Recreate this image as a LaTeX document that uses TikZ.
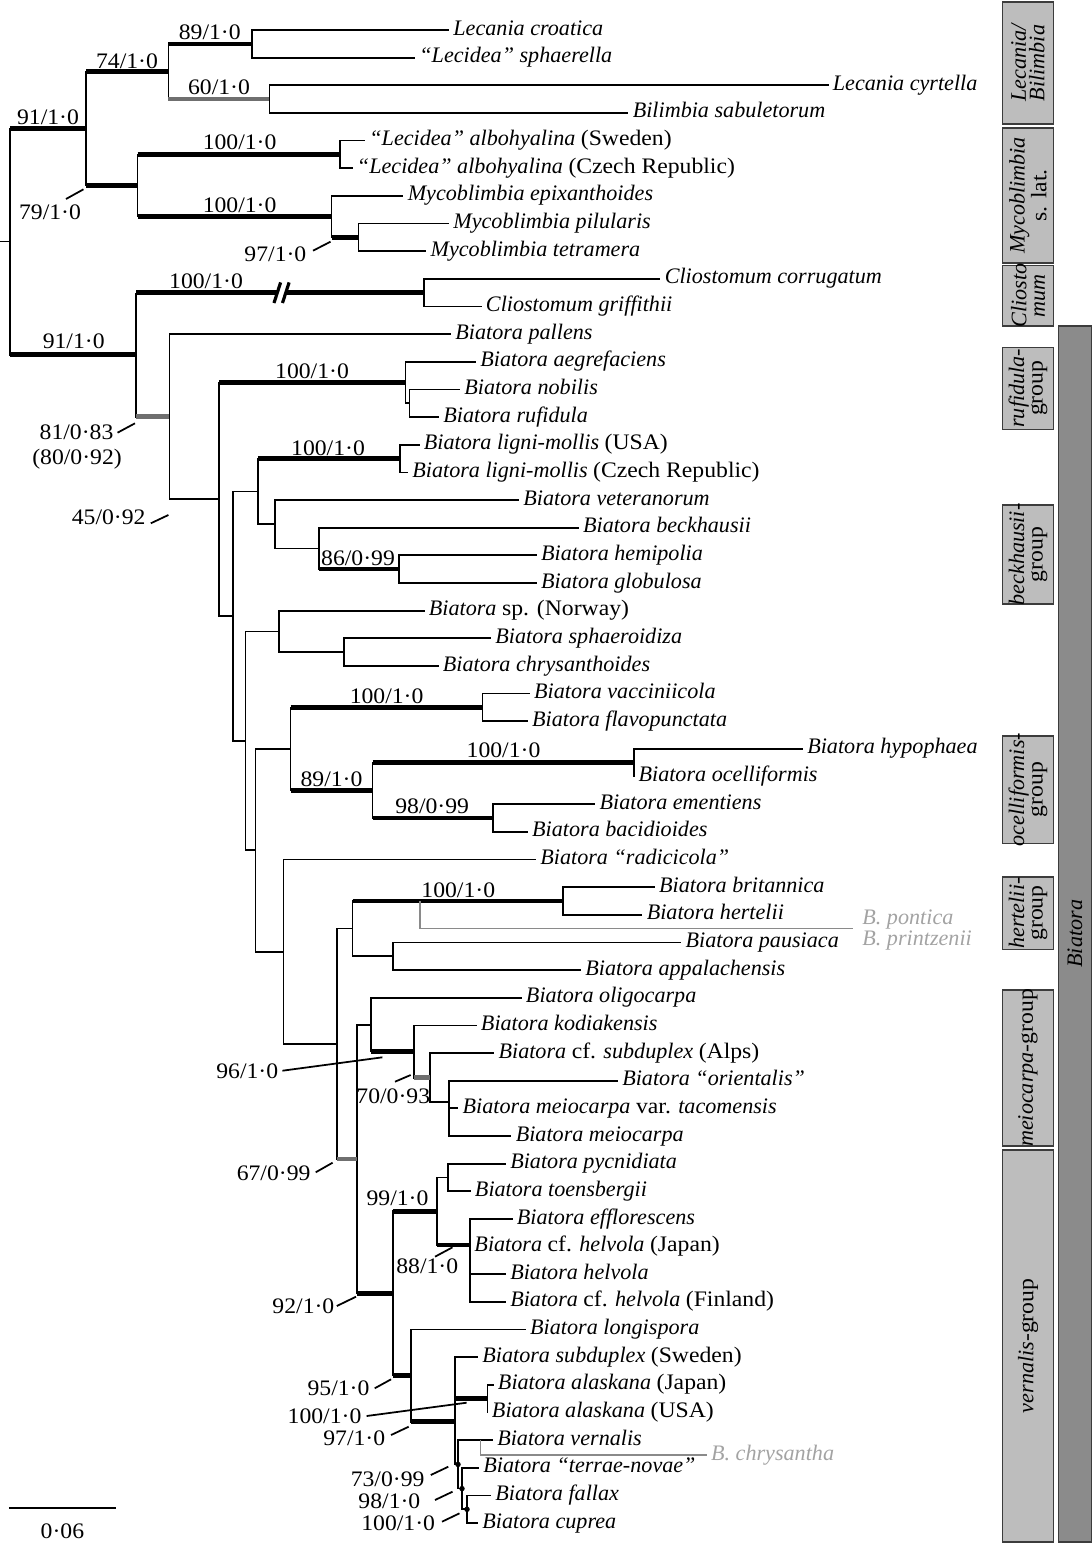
\documentclass[tikz,border=0pt]{standalone}
\usepackage{fontspec}
\setmainfont{Liberation Serif}[UprightFeatures={FakeStretch=1.07}]
\definecolor{brgrey}{HTML}{6F6F6F}
\definecolor{lngrey}{HTML}{8A8A8A}
\definecolor{txtgrey}{HTML}{A3A3A3}
\definecolor{boxfill}{HTML}{BDBDBD}
\definecolor{barfill}{HTML}{8B8B8B}
\definecolor{boxedge}{HTML}{3C3C3C}
\begin{document}
\begin{tikzpicture}[x=0.02cm, y=-0.02cm, line width=1pt]
	\tikzset{taxon/.style={anchor=west, inner sep=2pt, text height=1.5ex, text depth=0.25ex, font=\fontsize{12.6}{14}\selectfont\itshape},
		gtaxon/.style={taxon, text=txtgrey},
		supp/.style={inner sep=0pt, font=\fontsize{12.6}{14}\selectfont},
		thk/.style={line width=2.6pt},
		gbr/.style={line width=2.6pt, draw=brgrey},
		gline/.style={line width=0.9pt, draw=lngrey},
		grpbox/.style={draw=boxedge, fill=boxfill, line width=0.9pt},
		grplab/.style={rotate=90, align=center, inner sep=0pt, font=\fontsize{12.6}{10.5}\selectfont\itshape}};

	\useasboundingbox (0,0) rectangle (1092,1543);

	% inner nodes
	\coordinate (base) at (0,241.6);
	\coordinate (root) at (9.8,241.6);
	\coordinate (n91a) at (86,128.5);
	\coordinate (n74) at (168.4,71.5);
	\coordinate (n89) at (251.9,43.8);
	\coordinate (n60) at (269.4,99.1);
	\coordinate (n79) at (137.5,185.5);
	\coordinate (nalb) at (340.3,154.4);
	\coordinate (nmyc) at (331.5,216.6);
	\coordinate (n97) at (358.5,237.4);
	\coordinate (n81) at (136,354.7);
	\coordinate (nclio) at (424.3,292.7);
	\coordinate (brk1) at (277.3,292.7);
	\coordinate (brk2) at (285.8,292.7);
	\coordinate (n45) at (169.4,416.7);
	\coordinate (n219) at (219.3,499.3);
	\coordinate (nruf) at (405.5,382.55);
	\coordinate (nrufsub) at (409.5,403.3);
	\coordinate (n233) at (233.3,616.1);
	\coordinate (nligvet) at (257.8,491.4);
	\coordinate (nlig) at (400,458.6);
	\coordinate (nvet) at (274.7,524.2);
	\coordinate (nbeck) at (319.2,548.4);
	\coordinate (n86) at (398.9,569.2);
	\coordinate (nmid) at (245.6,740.85);
	\coordinate (nnorw) at (278.9,631.4);
	\coordinate (nchrys) at (343.8,652.1);
	\coordinate (nocpar) at (255.4,850.3);
	\coordinate (nocell) at (290.5,748.9);
	\coordinate (nvac) at (482.4,707.4);
	\coordinate (n89b) at (372.5,790.4);
	\coordinate (nhyp) at (634.2,762.7);
	\coordinate (nement) at (492.9,818);
	\coordinate (nradic) at (283.4,951.65);
	\coordinate (nlow) at (336.8,1043.8);
	\coordinate (nhert) at (352.6,928.6);
	\coordinate (nbrit) at (563.3,901);
	\coordinate (npont) at (420,901);
	\coordinate (pontend) at (853.3,928.6);
	\coordinate (npaus) at (392.7,956.3);
	\coordinate (n67) at (357.1,1159);
	\coordinate (noligo) at (371.2,1024.65);
	\coordinate (n96) at (414.3,1051.55);
	\coordinate (n70) at (430,1077.7);
	\coordinate (nmeio) at (449,1102.3);
	\coordinate (n92) at (392.9,1293.4);
	\coordinate (n99) at (436.7,1211.2);
	\coordinate (npycn) at (448.3,1177.5);
	\coordinate (n88) at (470.1,1245);
	\coordinate (n95) at (411.1,1375.6);
	\coordinate (n97b) at (455.3,1421.7);
	\coordinate (nalas) at (487.6,1398.7);
	\coordinate (n73) at (458,1464.4);
	\coordinate (nchr) at (480.6,1440.15);
	\coordinate (n98) at (462,1488.6);
	\coordinate (n100) at (467,1509.3);

	% taxa
	\node[taxon] (croat) at (449,30) {Lecania croatica};
	\node[taxon] (sphae) at (415,57.65) {“Lecidea” sphaerella};
	\node[taxon] (cyrt) at (828.5,85.3) {Lecania cyrtella};
	\node[taxon] (sabul) at (628.4,112.95) {Bilimbia sabuletorum};
	\node[taxon] (albS) at (365,140.6) {“Lecidea” albohyalina \textup{(Sweden)}};
	\node[taxon] (albC) at (352.6,168.25) {“Lecidea” albohyalina \textup{(Czech Republic)}};
	\node[taxon] (epix) at (403.4,195.9) {Mycoblimbia epixanthoides};
	\node[taxon] (pilul) at (449,223.55) {Mycoblimbia pilularis};
	\node[taxon] (tetra) at (426.2,251.2) {Mycoblimbia tetramera};
	\node[taxon] (corr) at (660.4,278.85) {Cliostomum corrugatum};
	\node[taxon] (griff) at (481.6,306.5) {Cliostomum griffithii};
	\node[taxon] (pall) at (451,334.15) {Biatora pallens};
	\node[taxon] (aegr) at (476,361.8) {Biatora aegrefaciens};
	\node[taxon] (nobil) at (460,389.45) {Biatora nobilis};
	\node[taxon] (rufid) at (439,417.1) {Biatora rufidula};
	\node[taxon] (ligU) at (419.5,444.75) {Biatora ligni-mollis \textup{(USA)}};
	\node[taxon] (ligC) at (408,472.4) {Biatora ligni-mollis \textup{(Czech Republic)}};
	\node[taxon] (veter) at (519,500.05) {Biatora veteranorum};
	\node[taxon] (beckh) at (578.7,527.7) {Biatora beckhausii};
	\node[taxon] (hemip) at (536.8,555.35) {Biatora hemipolia};
	\node[taxon] (globu) at (536.8,583) {Biatora globulosa};
	\node[taxon] (norw) at (424.5,610.65) {Biatora \textup{sp. (Norway)}};
	\node[taxon] (sphaer) at (491,638.3) {Biatora sphaeroidiza};
	\node[taxon] (chrysa) at (438.5,665.95) {Biatora chrysanthoides};
	\node[taxon] (vacc) at (529.8,693.6) {Biatora vacciniicola};
	\node[taxon] (flavo) at (527.8,721.25) {Biatora flavopunctata};
	\node[taxon] (hypo) at (802.9,748.9) {Biatora hypophaea};
	\node[taxon] (ocell) at (634.2,776.55) {Biatora ocelliformis};
	\node[taxon] (ement) at (595.3,804.2) {Biatora ementiens};
	\node[taxon] (bacid) at (527.8,831.85) {Biatora bacidioides};
	\node[taxon] (radic) at (536,859.5) {Biatora “radicicola”};
	\node[taxon] (brit) at (654.7,887.15) {Biatora britannica};
	\node[taxon] (hert) at (642.4,914.8) {Biatora hertelii};
	\node[taxon] (paus) at (681.3,942.45) {Biatora pausiaca};
	\node[taxon] (appal) at (581,970.1) {Biatora appalachensis};
	\node[taxon] (oligo) at (521.6,997.75) {Biatora oligocarpa};
	\node[taxon] (kodi) at (476.6,1025.4) {Biatora kodiakensis};
	\node[taxon] (subA) at (494.2,1053.05) {Biatora \textup{cf.} subduplex \textup{(Alps)}};
	\node[taxon] (orient) at (617.9,1080.7) {Biatora “orientalis”};
	\node[taxon] (tacom) at (458.3,1108.35) {Biatora meiocarpa \textup{var.} tacomensis};
	\node[taxon] (meioc) at (511.4,1136) {Biatora meiocarpa};
	\node[taxon] (pycn) at (505.9,1163.65) {Biatora pycnidiata};
	\node[taxon] (toens) at (470.6,1191.3) {Biatora toensbergii};
	\node[taxon] (efflo) at (512.5,1218.95) {Biatora efflorescens};
	\node[taxon] (helJ) at (470.1,1246.6) {Biatora \textup{cf.} helvola \textup{(Japan)}};
	\node[taxon] (helv) at (505.9,1274.25) {Biatora helvola};
	\node[taxon] (helF) at (505.9,1301.9) {Biatora \textup{cf.} helvola \textup{(Finland)}};
	\node[taxon] (longi) at (525.8,1329.55) {Biatora longispora};
	\node[taxon] (subS) at (478,1357.2) {Biatora subduplex \textup{(Sweden)}};
	\node[taxon] (alaJ) at (493.6,1384.85) {Biatora alaskana \textup{(Japan)}};
	\node[taxon] (alaU) at (487.6,1412.5) {Biatora alaskana \textup{(USA)}};
	\node[taxon] (vern) at (492.9,1440.15) {Biatora vernalis};
	\node[taxon] (terr) at (479,1467.8) {Biatora “terrae-novae”};
	\node[taxon] (fall) at (491,1495.45) {Biatora fallax};
	\node[taxon] (cupr) at (478,1523.1) {Biatora cuprea};
	\node[gtaxon] (pont) at (858,919) {B. pontica};
	\node[gtaxon] (printz) at (858,940) {B. printzenii};
	\node[gtaxon] (chry) at (706.7,1455) {B. chrysantha};

	% branches
	\draw (base) -- (root);
	\draw (root) |- (n91a);
	\draw (root) |- (n81);
	\draw (n91a) |- (n74);
	\draw (n91a) |- (n79);
	\draw (n74) |- (n89);
	\draw (n74) |- (n60);
	\draw (n89) |- (croat);
	\draw (n89) |- (sphae);
	\draw (n60) |- (cyrt);
	\draw (n60) |- (sabul);
	\draw (n79) |- (nalb);
	\draw (n79) |- (nmyc);
	\draw (nalb) |- (albS);
	\draw (nalb) |- (albC);
	\draw (nmyc) |- (epix);
	\draw (nmyc) |- (n97);
	\draw (n97) |- (pilul);
	\draw (n97) |- (tetra);
	\draw (n81) -- (n81 |- nclio);
	\draw (n81) |- (n45);
	\draw (nclio) |- (corr);
	\draw (nclio) |- (griff);
	\draw (n45) |- (pall);
	\draw (n45) |- (n219);
	\draw (n219) |- (nruf);
	\draw (n219) |- (n233);
	\draw (nruf) |- (aegr);
	\draw (nruf) |- (nrufsub);
	\draw (nrufsub) |- (nobil);
	\draw (nrufsub) |- (rufid);
	\draw (n233) |- (nligvet);
	\draw (n233) |- (nmid);
	\draw (nligvet) |- (nlig);
	\draw (nligvet) |- (nvet);
	\draw (nlig) |- (ligU);
	\draw (nlig) |- (ligC);
	\draw (nvet) |- (veter);
	\draw (nvet) |- (nbeck);
	\draw (nbeck) |- (beckh);
	\draw (nbeck) |- (n86);
	\draw (n86) |- (hemip);
	\draw (n86) |- (globu);
	\draw (nmid) |- (nnorw);
	\draw (nmid) |- (nocpar);
	\draw (nnorw) |- (norw);
	\draw (nnorw) |- (nchrys);
	\draw (nchrys) |- (sphaer);
	\draw (nchrys) |- (chrysa);
	\draw (nocpar) |- (nocell);
	\draw (nocpar) |- (nradic);
	\draw (nocell) |- (nvac);
	\draw (nocell) |- (n89b);
	\draw (nvac) |- (vacc);
	\draw (nvac) |- (flavo);
	\draw (n89b) |- (nhyp);
	\draw (n89b) |- (nement);
	\draw (nhyp) |- (hypo);
	\draw (nhyp) |- (ocell);
	\draw (nement) |- (ement);
	\draw (nement) |- (bacid);
	\draw (nradic) |- (radic);
	\draw (nradic) |- (nlow);
	\draw (nlow) |- (nhert);
	\draw (nlow) |- (n67);
	\draw (nhert) |- (nbrit);
	\draw (nhert) |- (npaus);
	\draw (nbrit) |- (brit);
	\draw (nbrit) |- (hert);
	\draw (npaus) |- (paus);
	\draw (npaus) |- (appal);
	\draw (n67) |- (noligo);
	\draw (n67) |- (n92);
	\draw (noligo) |- (oligo);
	\draw (noligo) |- (n96);
	\draw (n96) |- (kodi);
	\draw (n96) |- (n70);
	\draw (n70) |- (subA);
	\draw (n70) |- (nmeio);
	\draw (nmeio) |- (orient);
	\draw (nmeio) |- (tacom);
	\draw (nmeio) |- (meioc);
	\draw (n92) |- (n99);
	\draw (n92) |- (n95);
	\draw (n99) |- (npycn);
	\draw (n99) |- (n88);
	\draw (npycn) |- (pycn);
	\draw (npycn) |- (toens);
	\draw (n88) |- (efflo);
	\draw (n88) |- (helJ);
	\draw (n88) |- (helv);
	\draw (n88) |- (helF);
	\draw (n95) |- (longi);
	\draw (n95) |- (n97b);
	\draw (n97b) |- (subS);
	\draw (n97b) |- (nalas);
	\draw (n97b) |- (n73);
	\draw (nalas) |- (alaJ);
	\draw (nalas) |- (alaU);
	\draw (n73) |- (vern);
	\draw (n73) |- (n98);
	\draw (n98) |- (terr);
	\draw (n98) |- (n100);
	\draw (n100) |- (fall);
	\draw (n100) |- (cupr);

	% supported branches
	\draw[thk] (root |- n91a) -- (n91a);
	\draw[thk] (n91a |- n74) -- (n74);
	\draw[thk] (n91a |- n79) -- (n79);
	\draw[thk] (n74 |- n89) -- (n89);
	\draw[gbr] (n74 |- n60) -- (n60);
	\draw[thk] (n79 |- nalb) -- (nalb);
	\draw[thk] (n79 |- nmyc) -- (nmyc);
	\draw[thk] (nmyc |- n97) -- (n97);
	\draw[thk] (root |- n81) -- (n81);
	\draw[thk] (n81 |- nclio) -- (brk1);
	\draw[thk] (brk2) -- (nclio);
	\draw[line width=1.8pt] ([shift={(-3.3,10.3)}]brk1) -- ([shift={(3.3,-10.3)}]brk1);
	\draw[line width=1.8pt] ([shift={(-3.3,10.3)}]brk2) -- ([shift={(3.3,-10.3)}]brk2);
	\draw[gbr] (n81 |- n45) -- (n45);
	\draw[thk] (n219 |- nruf) -- (nruf);
	\draw[thk] (nligvet |- nlig) -- (nlig);
	\draw[thk] (nbeck |- n86) -- (n86);
	\draw[thk] (nocell |- nvac) -- (nvac);
	\draw[thk] (nocell |- n89b) -- (n89b);
	\draw[thk] (n89b |- nhyp) -- (nhyp);
	\draw[thk] (n89b |- nement) -- (nement);
	\draw[thk] (nhert |- nbrit) -- (nbrit);
	\draw[gbr] (nlow |- n67) -- (n67);
	\draw[thk] (noligo |- n96) -- (n96);
	\draw[gbr] (n96 |- n70) -- (n70);
	\draw[thk] (n67 |- n92) -- (n92);
	\draw[thk] (n92 |- n99) -- (n99);
	\draw[thk] (n99 |- n88) -- (n88);
	\draw[thk] (n92 |- n95) -- (n95);
	\draw[thk] (n95 |- n97b) -- (n97b);
	\draw[thk] (n97b |- nalas) -- (nalas);
	\fill (n73) circle[radius=0.055cm];
	\fill (n98) circle[radius=0.055cm];
	\fill (n100) circle[radius=0.055cm];

	% other species
	\draw[gline] (npont) |- (pontend);
	\draw[gline] (nchr) |- (chry);

	% support values
	\node[supp] (l89) at (209.8,32.3) {89/1·0};
	\node[supp] (l74) at (127,61) {74/1·0};
	\node[supp] (l60) at (219,87.3) {60/1·0};
	\node[supp] (l91a) at (48,117.3) {91/1·0};
	\node[supp] (l79) at (50,212) {79/1·0};
	\node[supp] (lalb) at (239.6,142.7) {100/1·0};
	\node[supp] (lmyc) at (239.6,205.7) {100/1·0};
	\node[supp] (l97) at (275.4,254) {97/1·0};
	\node[supp] (lclio) at (206,281.7) {100/1·0};
	\node[supp] (l91b) at (73.7,341.7) {91/1·0};
	\node[supp] (l81) at (76.5,432.7) {81/0·83};
	\node[supp] (l81b) at (77,459) {(80/0·92)};
	\node[supp] (l45) at (108.7,517.3) {45/0·92};
	\node[supp] (lruf) at (312,371.3) {100/1·0};
	\node[supp] (llig) at (328,448.3) {100/1·0};
	\node[supp] (l86) at (358,558) {86/0·99};
	\node[supp] (lvac) at (386.6,696) {100/1·0};
	\node[supp] (l89b) at (331.5,779) {89/1·0};
	\node[supp] (lhyp) at (503.5,750.7) {100/1·0};
	\node[supp] (l98b) at (432.2,806.7) {98/0·99};
	\node[supp] (lbrit) at (458.3,890) {100/1·0};
	\node[supp] (l96) at (247.3,1071.7) {96/1·0};
	\node[supp] (l70) at (393.3,1096.7) {70/0·93};
	\node[supp] (l67) at (273.6,1173.3) {67/0·99};
	\node[supp] (l99) at (397.5,1198.3) {99/1·0};
	\node[supp] (l88) at (427.3,1266.7) {88/1·0};
	\node[supp] (l92) at (303.4,1306.7) {92/1·0};
	\node[supp] (l95) at (338.5,1388.3) {95/1·0};
	\node[supp] (lalas) at (324.5,1416.7) {100/1·0};
	\node[supp] (l97b) at (354.3,1438.3) {97/1·0};
	\node[supp] (l73) at (387.6,1479) {73/0·99};
	\node[supp] (l98) at (389.4,1501.7) {98/1·0};
	\node[supp] (l100) at (398.2,1523.3) {100/1·0};

	% leaders
	\draw (l79) ++(16,-13) -- ++(17.5,-9.7);
	\draw (l97) ++(37.6,-3.3) -- ++(17.5,-9);
	\draw (l81) ++(41,0) -- ++(17.5,-9.4);
	\draw (l45) ++(42.1,6) -- ++(17.6,-8.3);
	\draw (l96) ++(35.1,-1) -- ++(100,-13.4);
	\draw (l70) ++(1.7,-15) -- ++(15.7,-6.7);
	\draw (l67) ++(42.1,-1) -- ++(16.9,-9.6);
	\draw (l88) ++(7.7,-10) -- ++(17.5,-9.4);
	\draw (l92) ++(33.4,-0.7) -- ++(19.2,-9.3);
	\draw (l95) ++(36.2,0) -- ++(16.4,-9);
	\draw (lalas) ++(42.1,-0.7) -- ++(100,-13.3);
	\draw (l97b) ++(36.8,-3.3) -- ++(17.6,-8.3);
	\draw (l73) ++(43.2,-4) -- ++(17.5,-8.3);
	\draw (l98) ++(45.6,-1.7) -- ++(17.5,-8.3);
	\draw (l100) ++(43.8,-1.6) -- ++(17.5,-8.4);

	% scale bar
	\coordinate (sbl) at (8.8,1508.3);
	\coordinate (sbr) at (115.8,1508.3);
	\draw[line width=1.3pt] (sbl) -- (sbr);
	\node[supp] (sbt) at (62.4,1531.7) {0·06};

	% groups
	\draw[grpbox] (1002.5,2) rectangle (1053.5,124);
	\draw[grpbox] (1002.5,128) rectangle (1053.5,263);
	\draw[grpbox] (1002.5,265.5) rectangle (1053.5,325.7);
	\draw[grpbox] (1002.5,347.3) rectangle (1053.5,429.3);
	\draw[grpbox] (1002.5,505) rectangle (1053.5,604);
	\draw[grpbox] (1002.5,735.7) rectangle (1053.5,843.3);
	\draw[grpbox] (1002.5,876.7) rectangle (1053.5,949.3);
	\draw[grpbox] (1002.5,990) rectangle (1053.5,1146);
	\draw[grpbox] (1002.5,1150) rectangle (1053.5,1541.7);
	\draw[grpbox, fill=barfill] (1058.5,325.7) rectangle (1091.5,1541.7);
	\node[grplab] (lecbox) at (1028,63) {Lecania/\\Bilimbia};
	\node[grplab] (mycbox) at (1028,195.5) {Mycoblimbia\\\textup{s. lat.}};
	\node[grplab] (clibox) at (1028,295.6) {Cliosto\\mum};
	\node[grplab] (rufbox) at (1028,388.3) {rufidula-\\\textup{group}};
	\node[grplab] (beckbox) at (1028,554.5) {beckhausii-\\\textup{group}};
	\node[grplab] (ocbox) at (1028,789.5) {ocelliformis-\\\textup{group}};
	\node[grplab] (hertbox) at (1028,913) {hertelii-\\\textup{group}};
	\node[grplab] (meiobox) at (1028,1068) {meiocarpa\textup{-group}};
	\node[grplab] (vernbox) at (1028,1345.8) {vernalis\textup{-group}};
	\node[grplab] (biabox) at (1075,933.7) {Biatora};
\end{tikzpicture}
\end{document}
